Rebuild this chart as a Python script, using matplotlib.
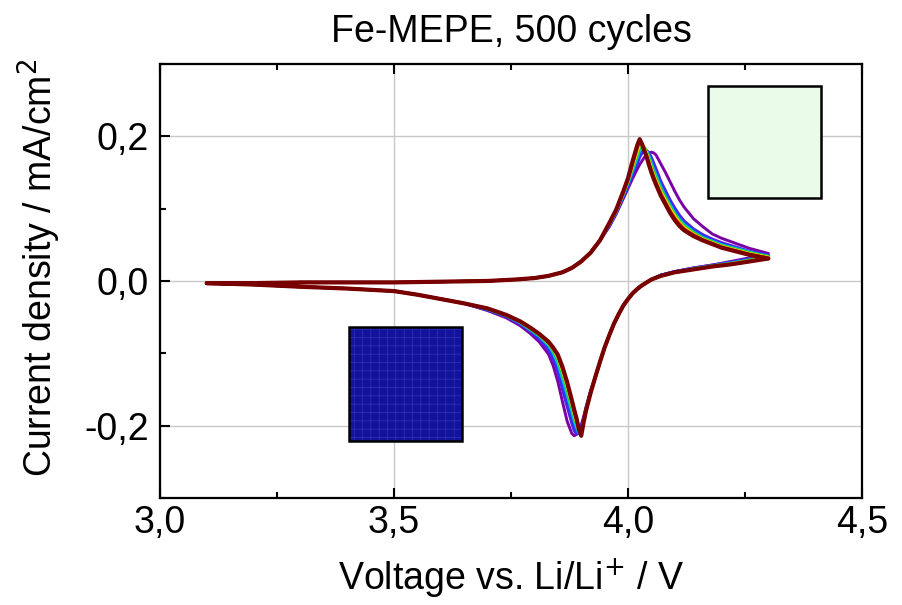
import numpy as np
import matplotlib
matplotlib.use("Agg")
import matplotlib.pyplot as plt
from matplotlib.patches import Rectangle
from matplotlib.ticker import MultipleLocator, FuncFormatter

plt.rcParams['font.family'] = ['Liberation Sans', 'DejaVu Sans']
plt.rcParams['hatch.linewidth'] = 0.6

# forward scan 3.1 V -> 4.3 V: all cycles overlap up to 3.94 V
v_fwd_start = [3.10, 3.20, 3.30, 3.40, 3.50, 3.60, 3.70, 3.76, 3.80, 3.83, 3.86, 3.88, 3.90, 3.92, 3.94]
j_fwd_start = [-0.003, -0.003, -0.002, -0.002, -0.002, -0.001, 0.000, 0.002, 0.004, 0.007, 0.012,
               0.018, 0.027, 0.039, 0.056]
v_fwd_peak = [3.96, 3.975, 3.99, 4.00, 4.01, 4.02, 4.025, 4.03, 4.035, 4.04, 4.045, 4.05, 4.055,
              4.06, 4.07, 4.08, 4.09, 4.10, 4.11, 4.12, 4.14, 4.16, 4.18, 4.20, 4.23, 4.26, 4.30]

# reverse scan 4.3 V -> 3.1 V
v_rev_head = [4.30, 4.26, 4.22, 4.18, 4.14, 4.10, 4.07]
v_rev_mid = [4.05, 4.04, 4.03, 4.02, 4.01, 4.00, 3.99, 3.98, 3.97, 3.96, 3.95, 3.94, 3.93]
j_rev_mid = [0.002, -0.002, -0.006, -0.011, -0.017, -0.025, -0.034, -0.046, -0.059, -0.075, -0.092,
             -0.112, -0.133]
v_rev_peak = [3.92, 3.91, 3.905, 3.90, 3.895, 3.89, 3.885, 3.88, 3.87, 3.86, 3.85, 3.84, 3.83,
              3.81, 3.79, 3.77, 3.74, 3.70]
v_rev_end = [3.65, 3.60, 3.55, 3.50, 3.40, 3.30, 3.20, 3.10]
j_rev_end = [-0.031, -0.025, -0.019, -0.014, -0.0105, -0.008, -0.005, -0.003]

# cycles from first (purple) to last (dark red)
fwd_purple = [0.075, 0.093, 0.114, 0.128, 0.142, 0.155, 0.161, 0.166, 0.171, 0.174, 0.177, 0.178, 0.177,
              0.174, 0.162, 0.150, 0.137, 0.124, 0.112, 0.102, 0.086, 0.075, 0.065, 0.059, 0.052, 0.045, 0.038]
fwd_violet = [0.076, 0.094, 0.116, 0.131, 0.147, 0.162, 0.171, 0.177, 0.180, 0.180, 0.177, 0.171, 0.163,
              0.155, 0.138, 0.125, 0.112, 0.101, 0.091, 0.083, 0.072, 0.064, 0.058, 0.053, 0.047, 0.041, 0.036]
fwd_blue = [0.077, 0.095, 0.118, 0.133, 0.150, 0.166, 0.175, 0.180, 0.182, 0.180, 0.175, 0.167, 0.158,
            0.150, 0.134, 0.121, 0.108, 0.097, 0.088, 0.080, 0.070, 0.062, 0.056, 0.051, 0.046, 0.040, 0.035]
fwd_cyan = [0.078, 0.096, 0.119, 0.135, 0.153, 0.171, 0.180, 0.184, 0.184, 0.180, 0.172, 0.163, 0.154,
            0.146, 0.130, 0.117, 0.105, 0.094, 0.085, 0.078, 0.068, 0.060, 0.055, 0.050, 0.045, 0.040, 0.034]
fwd_green = [0.079, 0.097, 0.120, 0.137, 0.156, 0.175, 0.184, 0.187, 0.185, 0.178, 0.169, 0.159, 0.150,
             0.142, 0.127, 0.115, 0.102, 0.092, 0.083, 0.076, 0.067, 0.059, 0.054, 0.049, 0.044, 0.039, 0.034]
fwd_yellow = [0.079, 0.097, 0.121, 0.138, 0.159, 0.179, 0.188, 0.190, 0.184, 0.176, 0.166, 0.156, 0.147,
              0.139, 0.124, 0.112, 0.100, 0.090, 0.081, 0.074, 0.065, 0.058, 0.053, 0.048, 0.043, 0.038, 0.033]
fwd_red = [0.080, 0.098, 0.122, 0.140, 0.162, 0.184, 0.192, 0.190, 0.182, 0.173, 0.163, 0.153, 0.144,
           0.136, 0.121, 0.109, 0.097, 0.087, 0.079, 0.072, 0.064, 0.057, 0.052, 0.047, 0.042, 0.037, 0.032]
fwd_darkred = [0.080, 0.099, 0.124, 0.142, 0.166, 0.188, 0.196, 0.189, 0.180, 0.171, 0.160, 0.150, 0.141,
               0.133, 0.118, 0.106, 0.094, 0.084, 0.076, 0.070, 0.062, 0.056, 0.051, 0.046, 0.041, 0.036, 0.031]

head_purple = [0.038, 0.032, 0.027, 0.022, 0.018, 0.013, 0.008]
head_violet = [0.036, 0.031, 0.026, 0.022, 0.018, 0.013, 0.008]
head_blue = [0.035, 0.030, 0.025, 0.021, 0.017, 0.013, 0.008]
head_cyan = [0.034, 0.029, 0.025, 0.021, 0.017, 0.012, 0.007]
head_green = [0.034, 0.029, 0.024, 0.021, 0.017, 0.012, 0.007]
head_yellow = [0.033, 0.028, 0.024, 0.020, 0.016, 0.012, 0.007]
head_red = [0.032, 0.027, 0.023, 0.020, 0.016, 0.012, 0.007]
head_darkred = [0.031, 0.027, 0.023, 0.020, 0.016, 0.012, 0.007]

rev_purple = [-0.152, -0.175, -0.188, -0.199, -0.207, -0.212, -0.214, -0.211, -0.194, -0.167, -0.139,
              -0.117, -0.101, -0.084, -0.072, -0.062, -0.051, -0.041]
rev_violet = [-0.153, -0.177, -0.191, -0.203, -0.210, -0.212, -0.207, -0.197, -0.174, -0.150, -0.126,
              -0.108, -0.095, -0.080, -0.069, -0.060, -0.049, -0.040]
rev_blue = [-0.154, -0.178, -0.193, -0.206, -0.211, -0.209, -0.200, -0.189, -0.165, -0.142, -0.120,
            -0.104, -0.092, -0.078, -0.068, -0.059, -0.049, -0.040]
rev_cyan = [-0.154, -0.179, -0.194, -0.209, -0.210, -0.203, -0.193, -0.181, -0.157, -0.135, -0.114,
            -0.099, -0.089, -0.076, -0.067, -0.058, -0.048, -0.039]
rev_green = [-0.155, -0.179, -0.195, -0.211, -0.208, -0.199, -0.188, -0.176, -0.151, -0.129, -0.109,
             -0.096, -0.087, -0.075, -0.066, -0.057, -0.048, -0.039]
rev_yellow = [-0.155, -0.180, -0.195, -0.212, -0.207, -0.196, -0.184, -0.171, -0.146, -0.125, -0.106,
              -0.094, -0.086, -0.074, -0.065, -0.057, -0.047, -0.038]
rev_red = [-0.155, -0.180, -0.196, -0.213, -0.206, -0.192, -0.180, -0.167, -0.142, -0.121, -0.103,
           -0.093, -0.085, -0.073, -0.064, -0.056, -0.047, -0.038]
rev_darkred = [-0.155, -0.180, -0.196, -0.214, -0.205, -0.190, -0.178, -0.165, -0.140, -0.119, -0.102,
               -0.092, -0.084, -0.073, -0.064, -0.056, -0.047, -0.038]

cycle_fwd = [fwd_purple, fwd_violet, fwd_blue, fwd_cyan, fwd_green, fwd_yellow, fwd_red, fwd_darkred]
cycle_head = [head_purple, head_violet, head_blue, head_cyan, head_green, head_yellow, head_red, head_darkred]
cycle_rev = [rev_purple, rev_violet, rev_blue, rev_cyan, rev_green, rev_yellow, rev_red, rev_darkred]
cycle_colors = ['#7a00a6', '#5a1ee6', '#1f3cff', '#00c8e0', '#20d020', '#f0e000', '#ff2a00', '#780000']

# inset boxes (x0, x1, y0, y1) in data units
blue_box = [3.404, 3.645, -0.221, -0.064]
green_box = [4.171, 4.412, 0.114, 0.270]

fig = plt.figure(figsize=(9.03, 6.05), dpi=100)
ax = fig.add_axes([0.1772, 0.1769, 0.7774, 0.7174])

v = np.concatenate([v_fwd_start, v_fwd_peak, v_rev_head, v_rev_mid, v_rev_peak, v_rev_end])
for jf, jh, jr, c in zip(cycle_fwd, cycle_head, cycle_rev, cycle_colors):
    j = np.concatenate([j_fwd_start, jf, jh, j_rev_mid, jr, j_rev_end])
    lw = 3.0 if c == '#780000' else 2.1
    ax.plot(v, j, color=c, lw=lw, solid_joinstyle='round', solid_capstyle='round', zorder=3)

x0, x1, y0, y1 = blue_box
ax.add_patch(Rectangle((x0, y0), x1 - x0, y1 - y0, facecolor='#12129a', edgecolor='none', zorder=4))
ax.add_patch(Rectangle((x0, y0), x1 - x0, y1 - y0, fill=False, hatch='++', edgecolor='#3030b4',
                       linewidth=0, zorder=4))
ax.add_patch(Rectangle((x0, y0), x1 - x0, y1 - y0, fill=False, edgecolor='black', linewidth=1.8, zorder=5))

x0, x1, y0, y1 = green_box
ax.add_patch(Rectangle((x0, y0), x1 - x0, y1 - y0, facecolor='#eafbe9', edgecolor='black',
                       linewidth=1.8, zorder=4))

ax.set_xlim(3.0, 4.5)
ax.set_ylim(-0.3, 0.3)
ax.xaxis.set_major_locator(MultipleLocator(0.5))
ax.xaxis.set_minor_locator(MultipleLocator(0.25))
ax.yaxis.set_major_locator(MultipleLocator(0.2))
ax.yaxis.set_minor_locator(MultipleLocator(0.1))
ax.xaxis.set_major_formatter(FuncFormatter(lambda val, p: f"{val:.1f}".replace('.', ',')))
ax.yaxis.set_major_formatter(FuncFormatter(lambda val, p: f"{val:.1f}".replace('.', ',').replace('-0,0', '0,0')))

ax.grid(True, which='major', color='#c8c8c8', lw=1.0, zorder=0)
ax.set_axisbelow(True)
ax.tick_params(which='both', direction='in', labelsize=27, width=1.5, top=True, right=False)
ax.tick_params(which='major', length=7)
ax.tick_params(which='minor', length=4.5)
ax.tick_params(axis='x', which='major', pad=5)
ax.tick_params(axis='y', which='major', pad=8)
for s in ax.spines.values():
    s.set_linewidth(1.6)

ax.set_title("Fe-MEPE, 500 cycles", fontsize=27, pad=16)
ax.set_xlabel("Voltage vs. Li/Li$^{+}$ / V", fontsize=27, labelpad=11)
ax.set_ylabel("Current density / mA/cm$^{2}$", fontsize=27, labelpad=15)
ax.yaxis.label.set_y(0.53)

fig.savefig("out.png", dpi=100)
